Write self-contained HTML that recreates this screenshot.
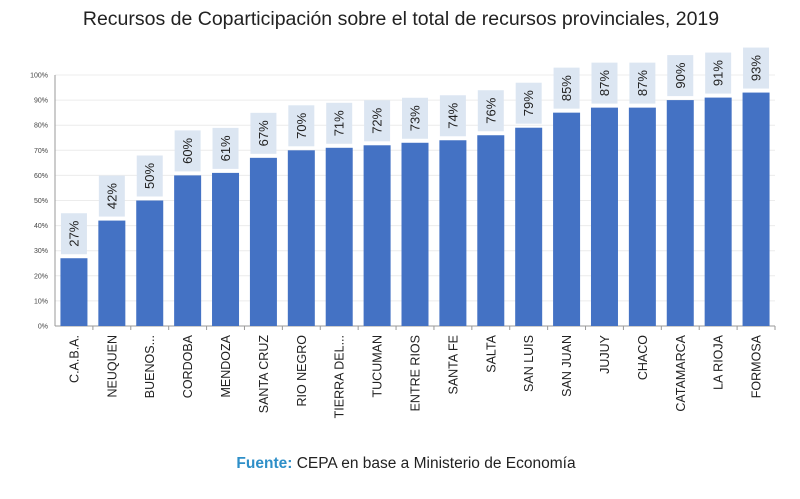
<!DOCTYPE html>
<html><head><meta charset="utf-8"><style>
body{margin:0;background:#fff;width:800px;height:494px;overflow:hidden;font-family:"Liberation Sans",sans-serif}
</style></head><body>
<svg id="c" width="800" height="494" xmlns="http://www.w3.org/2000/svg">
<text x="401" y="25" text-anchor="middle" font-size="19.5" fill="#222">Recursos de Coparticipación sobre el total de recursos provinciales, 2019</text>
<g id="grid"></g><g id="bars"></g><g id="cats"></g>
<text x="406" y="468" text-anchor="middle" font-size="15.5" fill="#222"><tspan fill="#2e8fc8" font-weight="bold">Fuente:</tspan> CEPA en base a Ministerio de Economía</text>
</svg>
<script>
const categories=["C.A.B.A.","NEUQUEN","BUENOS...","CORDOBA","MENDOZA","SANTA CRUZ","RIO NEGRO","TIERRA DEL...","TUCUMAN","ENTRE RIOS","SANTA FE","SALTA","SAN LUIS","SAN JUAN","JUJUY","CHACO","CATAMARCA","LA RIOJA","FORMOSA"];
const values=[27,42,50,60,61,67,70,71,72,73,74,76,79,85,87,87,90,91,93];
const yTicks=[0,10,20,30,40,50,60,70,80,90,100];
const NS="http://www.w3.org/2000/svg";
const x0=55,x1=775,y0=326,y1=75;
const step=(x1-x0)/categories.length;
const y=v=>y0-(v/100)*(y0-y1);
const xc=i=>x0+step*(i+0.5);
function mk(t,a,p){const e=document.createElementNS(NS,t);for(const k in a)e.setAttribute(k,a[k]);p.appendChild(e);return e;}
const grid=document.getElementById('grid'),bars=document.getElementById('bars'),cats=document.getElementById('cats');
yTicks.forEach(v=>{
 const l=mk('line',{x1:x0,x2:x1,y1:y(v),y2:y(v),stroke:v?'#ececec':'#999','stroke-width':1},grid);
 
 
 const t=mk('text',{x:x0-7,y:y(v)+2.5,'text-anchor':'end','font-size':7,fill:'#444'},grid);
 t.textContent=v+'%';
 
 
});
const ax=mk('line',{x1:x0,x2:x0,y1:y1,y2:y0,stroke:'#999'},grid);


values.forEach((v,i)=>{
 const cx=xc(i),bw=27;
 const r=mk('rect',{x:cx-bw/2,y:y(v),width:bw,height:y0-y(v),fill:'#4472c4'},bars);
 
 
 const b=mk('rect',{x:cx-13,y:y(v)-45,width:26,height:41,fill:'#dce6f2'},bars);
 
 
 const t=mk('text',{x:0,y:0,transform:`translate(${cx+4.5},${y(v)-24.5}) rotate(-90)`,'text-anchor':'middle','font-size':13,fill:'#222'},bars);
 t.textContent=v+'%';
 
 
 const tk=mk('line',{x1:x0+step*(i+1),x2:x0+step*(i+1),y1:y0,y2:y0+4,stroke:'#999'},cats);
 
 
 const c=mk('text',{x:0,y:0,transform:`translate(${cx+4.5},${y0+9}) rotate(-90)`,'text-anchor':'end','font-size':12.5,fill:'#222'},cats);
 c.textContent=categories[i];
 
 
});
</script>
</body></html>
